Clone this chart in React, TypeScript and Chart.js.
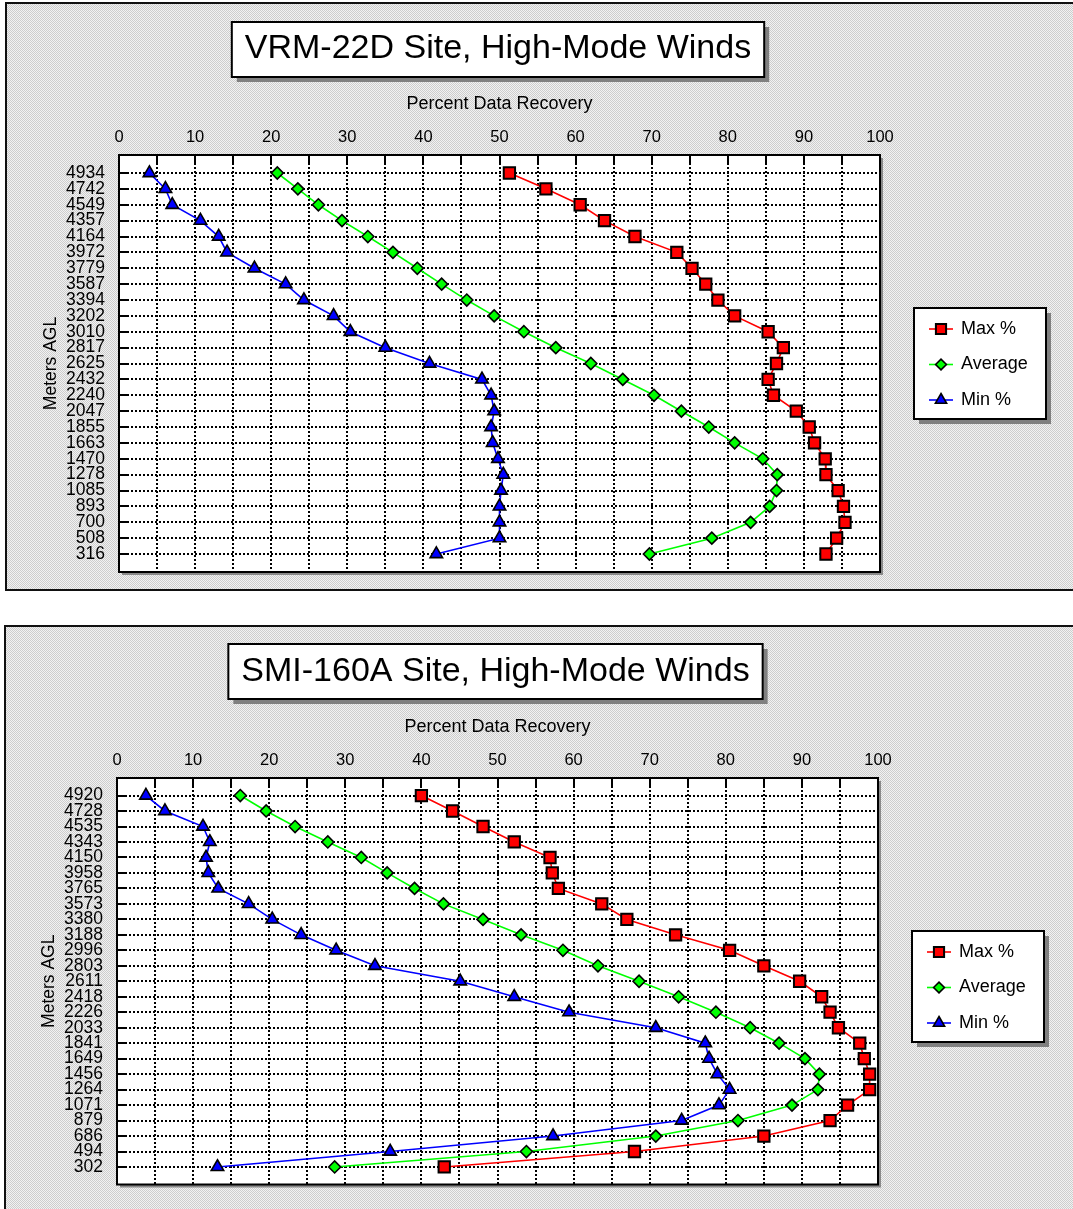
import React, { useEffect, useRef } from 'react';
import { Chart, registerables } from 'chart.js';

Chart.register(...registerables);

const FONT = "'Liberation Sans', Arial, Helvetica, sans-serif";

// ---------- DATA ----------
const seriesNames = ['Max %', 'Average', 'Min %'];
const xTickValues = [0, 10, 20, 30, 40, 50, 60, 70, 80, 90, 100];

const vrmTitle = 'VRM-22D Site, High-Mode Winds';
const vrmHeights = [4934, 4742, 4549, 4357, 4164, 3972, 3779, 3587, 3394, 3202, 3010, 2817, 2625, 2432, 2240, 2047, 1855, 1663, 1470, 1278, 1085, 893, 700, 508, 316];
const vrmMax = [51.3, 56.1, 60.6, 63.8, 67.8, 73.3, 75.3, 77.1, 78.7, 80.9, 85.3, 87.3, 86.4, 85.3, 86.0, 89.0, 90.7, 91.4, 92.8, 92.9, 94.5, 95.2, 95.4, 94.3, 92.9];
const vrmAvg = [20.8, 23.5, 26.2, 29.3, 32.7, 36.0, 39.2, 42.4, 45.7, 49.3, 53.2, 57.4, 62.0, 66.2, 70.3, 73.9, 77.5, 80.9, 84.6, 86.5, 86.4, 85.5, 83.0, 77.9, 69.7];
const vrmMin = [4.0, 6.1, 7.0, 10.7, 13.1, 14.2, 17.8, 21.9, 24.3, 28.2, 30.4, 35.0, 40.8, 47.7, 48.9, 49.3, 48.9, 49.1, 49.8, 50.5, 50.2, 50.0, 50.0, 50.0, 41.7];

const smiTitle = 'SMI-160A Site, High-Mode Winds';
const smiHeights = [4920, 4728, 4535, 4343, 4150, 3958, 3765, 3573, 3380, 3188, 2996, 2803, 2611, 2418, 2226, 2033, 1841, 1649, 1456, 1264, 1071, 879, 686, 494, 302];
const smiMax = [40.0, 44.1, 48.1, 52.2, 56.9, 57.2, 58.0, 63.7, 67.0, 73.4, 80.5, 85.0, 89.7, 92.6, 93.7, 94.8, 97.6, 98.2, 98.9, 98.9, 96.0, 93.7, 85.0, 68.0, 43.0];
const smiAvg = [16.2, 19.6, 23.4, 27.7, 32.1, 35.5, 39.1, 42.9, 48.1, 53.1, 58.6, 63.2, 68.6, 73.8, 78.7, 83.2, 87.0, 90.4, 92.3, 92.1, 88.7, 81.6, 70.8, 53.8, 28.6];
const smiMin = [3.8, 6.3, 11.3, 12.2, 11.7, 12.0, 13.3, 17.3, 20.4, 24.2, 28.8, 33.9, 45.1, 52.2, 59.4, 70.8, 77.3, 77.8, 78.9, 80.5, 79.1, 74.2, 57.3, 35.9, 13.2];

// ---------- STYLE / GEOMETRY ----------
const seriesStyles = [
  { color: '#ff0000', point: 'rect', radius: 8, border: 2 },
  { color: '#00ff00', point: 'rectRot', radius: 6, border: 1.6 },
  { color: '#0000ff', point: 'triangle', radius: 7.2, border: 1.6 },
];

type Geom = {
  W: number; H: number;
  panel: { x: number; y: number; bottom: number };
  plot: { left: number; top: number; right: number; bottom: number };
  titleBox: { cx: number; top: number; h: number; base: number };
  legend: { x: number; y: number; w: number; h: number };
  xTitlePad: number; yTitlePad: number;
};

const geom1: Geom = {
  W: 1073, H: 600,
  panel: { x: 6, y: 3, bottom: 590 },
  plot: { left: 119, top: 155, right: 880, bottom: 572 },
  titleBox: { cx: 498, top: 22, h: 55, base: 36 },
  legend: { x: 914, y: 308, w: 132, h: 111 },
  xTitlePad: 93, yTitlePad: 41,
};
const geom2: Geom = {
  W: 1073, H: 609,
  panel: { x: 5, y: 26, bottom: 2000 },
  plot: { left: 117, top: 178, right: 878, bottom: 595 },
  titleBox: { cx: 495.5, top: 44, h: 55, base: 37 },
  legend: { x: 912, y: 331, w: 132, h: 111 },
  xTitlePad: 116, yTitlePad: 39,
};

function drawMarker(ctx: CanvasRenderingContext2D, style: string, x: number, y: number, r: number) {
  ctx.beginPath();
  if (style === 'rect') {
    const s = Math.SQRT1_2 * r;
    ctx.rect(x - s, y - s, 2 * s, 2 * s);
  } else if (style === 'rectRot') {
    ctx.moveTo(x - r, y); ctx.lineTo(x, y - r); ctx.lineTo(x + r, y); ctx.lineTo(x, y + r);
    ctx.closePath();
  } else {
    let a = 0;
    ctx.moveTo(x + Math.sin(a) * r, y - Math.cos(a) * r);
    a += (2 * Math.PI) / 3;
    ctx.lineTo(x + Math.sin(a) * r, y - Math.cos(a) * r);
    a += (2 * Math.PI) / 3;
    ctx.lineTo(x + Math.sin(a) * r, y - Math.cos(a) * r);
    ctx.closePath();
  }
}

let patternCache: CanvasPattern | null = null;
function panelPattern(ctx: CanvasRenderingContext2D) {
  if (patternCache) return patternCache;
  const pc = document.createElement('canvas');
  pc.width = 2; pc.height = 2;
  const p = pc.getContext('2d')!;
  p.fillStyle = '#f2f2f2'; p.fillRect(0, 0, 2, 2);
  p.fillStyle = '#cdcdcd'; p.fillRect(0, 0, 1, 1); p.fillRect(1, 1, 1, 1);
  patternCache = ctx.createPattern(pc, 'repeat');
  return patternCache;
}

function makeConfig(title: string, heights: number[], max: number[], avg: number[], min: number[], g: Geom): any {
  const n = heights.length;
  const step = (heights[0] - heights[n - 1]) / (n - 1);
  const pad = step * 1.134;
  const yMin = heights[n - 1] - pad;
  const yMax = heights[0] + pad;
  const values = [max, avg, min];

  const datasets = values.map((vals, si) => ({
    label: seriesNames[si],
    data: heights.map((h, i) => ({ x: vals[i], y: h })),
    showLine: true,
    borderColor: seriesStyles[si].color,
    borderWidth: 1.6,
    pointStyle: seriesStyles[si].point,
    pointRadius: seriesStyles[si].radius,
    pointBackgroundColor: seriesStyles[si].color,
    pointBorderColor: '#000',
    pointBorderWidth: seriesStyles[si].border,
    tension: 0,
  }));

  const decor = {
    id: 'decor',
    beforeDraw(chart: any) {
      const ctx: CanvasRenderingContext2D = chart.ctx;
      ctx.save();
      ctx.fillStyle = '#fff';
      ctx.fillRect(0, 0, g.W, g.H);
      // panel
      ctx.fillStyle = panelPattern(ctx) as any;
      ctx.fillRect(g.panel.x, g.panel.y, g.W + 20, g.panel.bottom - g.panel.y);
      ctx.strokeStyle = '#111';
      ctx.lineWidth = 2;
      ctx.strokeRect(g.panel.x, g.panel.y, g.W + 20, g.panel.bottom - g.panel.y);
      // plot area
      const a = chart.chartArea;
      ctx.fillStyle = '#8a8a8a';
      ctx.fillRect(a.left + 3, a.top + 3, a.right - a.left, a.bottom - a.top);
      ctx.fillStyle = '#fff';
      ctx.fillRect(a.left, a.top, a.right - a.left, a.bottom - a.top);
      // title box
      ctx.font = `34px ${FONT}`;
      const tw = ctx.measureText(title).width;
      const bw = tw + 26;
      const bx = g.titleBox.cx - bw / 2;
      ctx.fillStyle = '#808080';
      ctx.fillRect(bx + 5, g.titleBox.top + 5, bw, g.titleBox.h);
      ctx.fillStyle = '#fff';
      ctx.fillRect(bx, g.titleBox.top, bw, g.titleBox.h);
      ctx.strokeStyle = '#000';
      ctx.lineWidth = 2;
      ctx.strokeRect(bx, g.titleBox.top, bw, g.titleBox.h);
      ctx.fillStyle = '#000';
      ctx.textAlign = 'center';
      ctx.textBaseline = 'alphabetic';
      ctx.fillText(title, g.titleBox.cx, g.titleBox.top + g.titleBox.base);
      // legend box
      const L = g.legend;
      ctx.fillStyle = '#808080';
      ctx.fillRect(L.x + 5, L.y + 5, L.w, L.h);
      ctx.fillStyle = '#fff';
      ctx.fillRect(L.x, L.y, L.w, L.h);
      ctx.strokeStyle = '#000';
      ctx.lineWidth = 2;
      ctx.strokeRect(L.x, L.y, L.w, L.h);
      ctx.restore();
    },
    beforeDatasetsDraw(chart: any) {
      const ctx: CanvasRenderingContext2D = chart.ctx;
      const a = chart.chartArea;
      const xs = chart.scales.x;
      const ys = chart.scales.y;
      ctx.save();
      ctx.strokeStyle = '#000';
      ctx.lineWidth = 2;
      ctx.beginPath();
      xs.ticks.forEach((t: any) => {
        const px = Math.round(xs.getPixelForValue(t.value));
        ctx.moveTo(px, a.top); ctx.lineTo(px, a.top + 8);
      });
      ys.ticks.forEach((t: any) => {
        const py = Math.round(ys.getPixelForValue(t.value));
        ctx.moveTo(a.left, py); ctx.lineTo(a.left + 10, py);
      });
      ctx.stroke();
      ctx.lineWidth = 2;
      ctx.strokeRect(a.left, a.top, a.right - a.left, a.bottom - a.top);
      ctx.restore();
    },
    afterDraw(chart: any) {
      const ctx: CanvasRenderingContext2D = chart.ctx;
      const L = g.legend;
      ctx.save();
      chart.data.datasets.forEach((ds: any, i: number) => {
        const st = seriesStyles[i];
        const cy = L.y + 21 + i * 35.5;
        ctx.strokeStyle = st.color;
        ctx.lineWidth = 1.6;
        ctx.beginPath();
        ctx.moveTo(L.x + 15, cy); ctx.lineTo(L.x + 39, cy);
        ctx.stroke();
        drawMarker(ctx, st.point, L.x + 27, cy, st.radius * 0.9);
        ctx.fillStyle = st.color;
        ctx.fill();
        ctx.strokeStyle = '#000';
        ctx.lineWidth = st.border;
        ctx.stroke();
        ctx.fillStyle = '#000';
        ctx.font = `18px ${FONT}`;
        ctx.textAlign = 'left';
        ctx.textBaseline = 'middle';
        ctx.fillText(ds.label, L.x + 47, cy);
      });
      ctx.restore();
    },
  };

  return {
    type: 'scatter',
    data: { datasets },
    options: {
      animation: false,
      responsive: false,
      devicePixelRatio: 1,
      layout: { padding: { left: 0, top: 0, right: g.W - g.plot.right, bottom: g.H - g.plot.bottom } },
      plugins: { legend: { display: false }, title: { display: false }, tooltip: { enabled: false } },
      scales: {
        x: {
          type: 'linear', position: 'top', min: 0, max: 100,
          afterBuildTicks: (s: any) => {
            const t: any[] = [];
            xTickValues.forEach((v, i) => {
              t.push({ value: v });
              if (i < xTickValues.length - 1) t.push({ value: (v + xTickValues[i + 1]) / 2 });
            });
            s.ticks = t;
          },
          ticks: {
            autoSkip: false, maxRotation: 0, padding: 7.6, color: '#000',
            font: { size: 16.5, family: FONT },
            callback: (v: number) => (xTickValues.includes(v) ? String(v) : ''),
          },
          grid: { color: '#000', lineWidth: 2, drawTicks: false },
          border: { display: false, dash: [2, 2] },
          title: { display: true, text: 'Percent Data Recovery', color: '#000', font: { size: 18, family: FONT }, padding: { top: g.xTitlePad, bottom: 0 } },
          afterFit: (s: any) => { s.height = g.plot.top; },
        },
        y: {
          type: 'linear', min: yMin, max: yMax,
          afterBuildTicks: (s: any) => { s.ticks = heights.map((h) => ({ value: h })); },
          ticks: {
            autoSkip: false, padding: 14, color: '#000',
            font: { size: 17.5, family: FONT },
            callback: (v: number) => String(v),
          },
          grid: { color: '#000', lineWidth: 2, drawTicks: false },
          border: { display: false, dash: [2, 2] },
          title: { display: true, text: 'Meters AGL', color: '#000', font: { size: 17.5, family: FONT }, padding: { top: g.yTitlePad, bottom: 0 } },
          afterFit: (s: any) => { s.width = g.plot.left; },
        },
      },
    },
    plugins: [decor],
  };
}

function ChartPanel({ config, top, width, height }: { config: any; top: number; width: number; height: number }) {
  const ref = useRef<HTMLCanvasElement | null>(null);
  useEffect(() => {
    if (!ref.current) return;
    const chart = new Chart(ref.current, config);
    return () => chart.destroy();
  }, [config]);
  return (
    <canvas
      ref={ref}
      width={width}
      height={height}
      style={{ position: 'absolute', left: 0, top, width, height, display: 'block' }}
    />
  );
}

const config1 = makeConfig(vrmTitle, vrmHeights, vrmMax, vrmAvg, vrmMin, geom1);
const config2 = makeConfig(smiTitle, smiHeights, smiMax, smiAvg, smiMin, geom2);

export default function App() {
  return (
    <div style={{ position: 'absolute', left: 0, top: 0, width: 1073, height: 1209, background: '#fff', overflow: 'hidden' }}>
      <ChartPanel config={config1} top={0} width={geom1.W} height={geom1.H} />
      <ChartPanel config={config2} top={600} width={geom2.W} height={geom2.H} />
    </div>
  );
}
